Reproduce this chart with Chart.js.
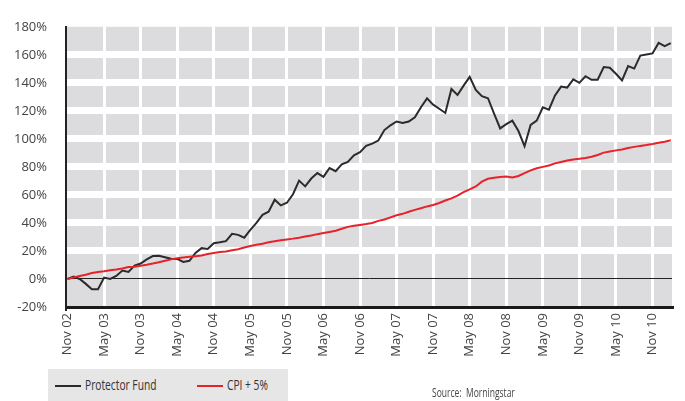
<!DOCTYPE html>
<html>
<head>
<meta charset="utf-8">
<script src="https://cdn.jsdelivr.net/npm/chart.js@4.4.1/dist/chart.umd.min.js"></script>
<style>
  html, body { margin: 0; padding: 0; background: #fff; }
  #wrap { position: relative; width: 685px; height: 401px; }
  #legend {
    position: absolute; left: 48px; top: 369px; width: 240px; height: 32px;
    background: #e6e6e7; font-family: "Open Sans", sans-serif;
    font-size: 14px; color: #333;
  }
  .sw { position: absolute; top: 16px; width: 26px; height: 2px; }
  .lt { position: absolute; top: 8px; line-height: 16px; white-space: nowrap;
        transform: scaleX(0.73); transform-origin: left center; }
  #source {
    position: absolute; left: 432px; top: 386px; font-family: "Open Sans", sans-serif;
    font-size: 12px; color: #444; white-space: nowrap; line-height: 14px;
    transform: scaleX(0.71); transform-origin: left center;
  }
</style>
</head>
<body>
<div id="wrap">
  <canvas id="chart" width="685" height="401"></canvas>
  <div id="legend">
    <div class="sw" style="left:7px;background:#2b2b2b"></div>
    <div class="lt" style="left:37px">Protector Fund</div>
    <div class="sw" style="left:149px;background:#e8222a"></div>
    <div class="lt" style="left:179px">CPI + 5%</div>
  </div>
  <div id="source">Source:&nbsp; Morningstar</div>
</div>
<script>
const ctx = document.getElementById('chart').getContext('2d');

// monthly values, Nov 02 .. Feb 11 (cumulative %)
let protectorFund = [0, 1.8, 0, -3.5, -7.3, -7.3, 1, 0, 2.2, 6,
  5, 9.5, 11, 14, 16.4, 16.6, 15.5, 14.5, 14.3, 12.2,
  13, 18.6, 22, 21.4, 25.5, 26.2, 27, 32.2, 31.5, 29.5,
  35, 40, 45.8, 48, 56.6, 52.5, 54.4, 60.5, 70.2, 66.1,
  71.7, 75.6, 72.9, 79.2, 76.9, 81.9, 83.5, 88.3, 90.5, 95,
  96.6, 98.8, 106.3, 109.7, 112.4, 111.3, 112.4, 115.4, 122.6, 128.9,
  124.4, 121.5, 118.5, 135.6, 131.3, 138, 144.3, 135, 130.5, 129,
  118, 107.5, 110.5, 113, 105.6, 94.8, 110, 113, 122.6, 120.8,
  131, 137.3, 136.6, 142.5, 140, 144.7, 142.2, 142.2, 151.3, 150.8,
  146.5, 141.8, 152, 150.2, 159.5, 160.3, 161, 168.5, 166.2, 168.3];

let cpiPlus5 = [0, 1, 2.2, 3, 4.3, 5, 5.5, 6.2, 6.8, 7.5,
  8.5, 8.8, 9.5, 10.2, 11, 12, 13, 14, 14.8, 15.3,
  15.8, 16.3, 16.8, 17.8, 18.5, 19.2, 19.6, 20.5, 21.2, 22.5,
  23.5, 24.5, 25.2, 26.2, 27, 27.6, 28.2, 28.8, 29.5, 30.3,
  31, 32, 32.8, 33.6, 34.4, 35.8, 37.2, 38, 38.6, 39.2,
  40, 41.5, 42.5, 44, 45.5, 46.5, 48, 49.3, 50.5, 51.8,
  52.8, 54.2, 56, 57.5, 59.5, 62, 64, 66, 69.5, 71.5,
  72.3, 72.8, 73.2, 72.5, 73.5, 75.5, 77.5, 79, 80, 81,
  82.5, 83.5, 84.5, 85.3, 85.8, 86.4, 87.2, 88.5, 90.2, 91,
  91.8, 92.4, 93.5, 94.3, 95, 95.6, 96.3, 97.2, 98, 99];

let xLabels = ['Nov 02', 'May 03', 'Nov 03', 'May 04', 'Nov 04', 'May 05', 'Nov 05', 'May 06',
  'Nov 06', 'May 07', 'Nov 07', 'May 08', 'Nov 08', 'May 09', 'Nov 09', 'May 10', 'Nov 10'];
let xTickMonths = [0, 6, 12, 18, 24, 30, 36, 42, 48, 54, 60, 66, 72, 78, 84, 90, 96];

const toPoints = arr => arr.map((v, i) => ({ x: i, y: v }));

const plotBg = {
  id: 'plotBg',
  beforeDraw(chart) {
    const a = chart.chartArea;
    const c = chart.ctx;
    c.save();
    c.fillStyle = '#dcdcde';
    c.fillRect(a.left, a.top, a.right - a.left, a.bottom - a.top);
    c.restore();
  }
};

Chart.defaults.font.family = '"Open Sans", sans-serif';
Chart.defaults.font.size = 13;
Chart.defaults.color = '#444';

let fundChart = new Chart(ctx, {
  type: 'line',
  data: {
    datasets: [{
      label: 'Protector Fund',
      data: toPoints(protectorFund),
      borderColor: '#2b2b2b',
      borderWidth: 2,
      pointRadius: 0,
      order: 2
    }, {
      label: 'CPI + 5%',
      data: toPoints(cpiPlus5),
      borderColor: '#e8222a',
      borderWidth: 2,
      pointRadius: 0,
      order: 1
    }]
  },
  options: {
    responsive: false,
    animation: false,
    layout: { padding: { left: 0, right: 13, top: 12, bottom: 41 } },
    scales: {
      x: {
        type: 'linear',
        min: -0.25,
        max: 99.2,
        afterBuildTicks: scale => {
          scale.ticks = xTickMonths.map(v => ({ value: v }));
        },
        afterFit: scale => { scale.height = 53; },
        ticks: {
          autoSkip: false,
          minRotation: 90,
          maxRotation: 90,
          padding: 6,
          callback: (v, i) => xLabels[i]
        },
        grid: {
          drawTicks: false,
          color: c => c.index === 0 ? 'rgba(0,0,0,0)' : '#ffffff',
          lineWidth: 3
        },
        border: { display: true, color: '#1a1a1a', width: 3 }
      },
      y: {
        min: -20,
        max: 180,
        afterFit: scale => { scale.width = 66; },
        ticks: {
          stepSize: 20,
          padding: 19,
          callback: v => v + '%'
        },
        grid: {
          drawTicks: false,
          color: c => {
            const v = c.tick ? c.tick.value : null;
            if (v === 0) return '#222';
            if (v === 180 || v === -20) return 'rgba(0,0,0,0)';
            return '#ffffff';
          },
          lineWidth: c => (c.tick && c.tick.value === 0) ? 1 : 7
        },
        border: { display: true, color: '#222', width: 2 }
      }
    },
    plugins: {
      legend: { display: false },
      tooltip: { enabled: false }
    }
  },
  plugins: [plotBg]
});
</script>
</body>
</html>
